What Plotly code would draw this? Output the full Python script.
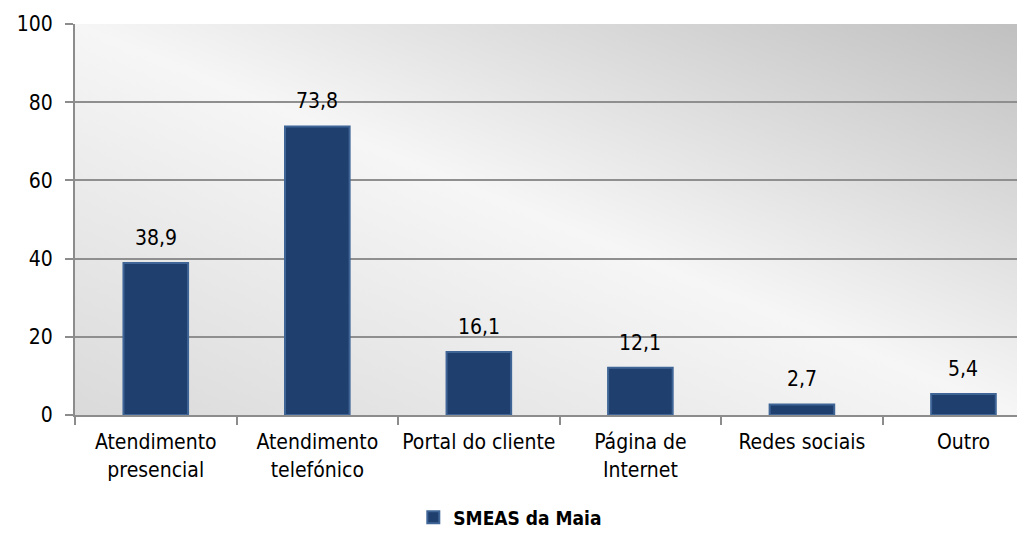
import base64
import plotly.graph_objects as go

categories = ["Atendimento<br>presencial", "Atendimento<br>telefónico", "Portal do cliente",
              "Página de<br>Internet", "Redes sociais", "Outro"]
values = [38.9, 73.8, 16.1, 12.1, 2.7, 5.4]
series_name = "SMEAS da Maia"
y_ticks = [0, 20, 40, 60, 80, 100]

FONT = "DejaVu Sans Condensed, Liberation Sans Narrow, Arial Narrow, sans-serif"
FS = 21

svg = """<svg xmlns='http://www.w3.org/2000/svg' width='100' height='100' preserveAspectRatio='none'>
<defs><linearGradient id='g' x1='1' y1='0' x2='0' y2='1'>
<stop offset='0' stop-color='#c0c0c0'/><stop offset='0.5' stop-color='#f6f6f6'/><stop offset='1' stop-color='#dadada'/>
</linearGradient></defs><rect width='100' height='100' fill='url(#g)'/></svg>"""
bg_uri = "data:image/svg+xml;base64," + base64.b64encode(svg.encode()).decode()

fig = go.Figure()
fig.add_trace(go.Bar(
    x=categories, y=values, name=series_name, width=0.4,
    marker=dict(color="#1f3f6e", line=dict(color="#3f6597", width=2)),
    showlegend=True,
))

for c, v in zip(categories, values):
    fig.add_annotation(x=c, y=v, text=f"{v:.1f}".replace(".", ","), showarrow=False,
                       yanchor="bottom", yshift=11,
                       font=dict(family=FONT, size=FS, color="#000000"))

fig.update_layout(
    width=1025, height=544,
    margin=dict(l=67, r=13, t=16, b=137),
    paper_bgcolor="white", plot_bgcolor="rgba(0,0,0,0)",
    font=dict(family=FONT, size=FS, color="#000000"),
    images=[dict(source=bg_uri, xref="paper", yref="paper", x=0, y=1, sizex=1, sizey=1,
                 sizing="stretch", layer="below")],
    xaxis=dict(range=[-0.5, 5.35], showgrid=False, showline=True, linecolor="#8c8c8c", linewidth=2,
               ticks="outside", tickson="boundaries", ticklen=8, tickcolor="#8c8c8c", tickwidth=2,
               tickangle=0, automargin=False, ticklabelstandoff=7, tickfont=dict(family=FONT, size=FS)),
    yaxis=dict(range=[0, 100], tickvals=y_ticks, showgrid=True, gridcolor="#8f8f8f", gridwidth=2,
               showline=True, linecolor="#8c8c8c", linewidth=2, ticks="outside", ticklen=8,
               tickcolor="#8c8c8c", tickwidth=2, zeroline=False, automargin=False,
               ticklabelstandoff=8, tickfont=dict(family=FONT, size=FS)),
    legend=dict(orientation="h", x=0.358, xanchor="left", y=-0.262, yanchor="middle",
                font=dict(family=FONT, size=19, weight="bold"), itemwidth=30,
                bgcolor="rgba(0,0,0,0)"),
    bargap=0.6,
)

fig.write_html("out.html")
